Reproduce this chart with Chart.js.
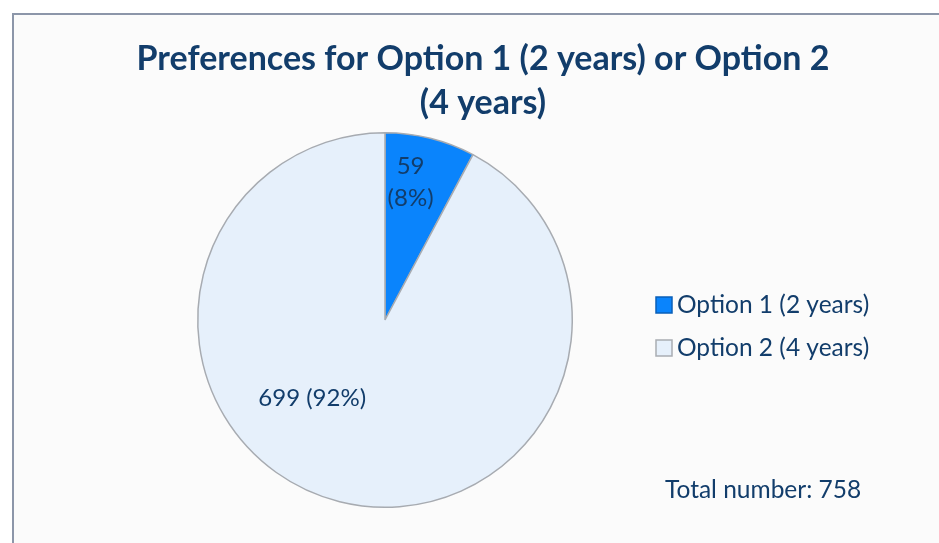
<!DOCTYPE html>
<html>
<head>
<meta charset="utf-8">
<script src="https://cdn.jsdelivr.net/npm/chart.js@4"></script>
<style>
    html, body { margin: 0; padding: 0; background: #ffffff; }
    #frame {
        position: absolute; left: 12px; top: 13px; width: 960px; height: 560px;
        border: 2px solid #8c96a9; background: #fbfbfb; box-sizing: border-box;
    }
    #wrap { position: absolute; left: 0; top: 0; width: 939px; height: 543px; }
</style>
</head>
<body>
<div id="frame"></div>
<div id="wrap"><canvas id="pie-chart" width="939" height="543"></canvas></div>
<script>
// Chart data
const categories = ['Option 1 (2 years)', 'Option 2 (4 years)'];
const counts = [59, 699];
const percents = [8, 92];
const totalNumber = 758;
const chartTitle = ['Preferences for Option 1 (2 years) or Option 2', '(4 years)'];

// Styling
const sliceColors = ['#0a84fc', '#e6f0fb'];
const swatchBorders = ['#0a5fb8', '#a9adb3'];
const textColor = '#123d6b';
const fontFamily = 'Lato, "Open Sans", sans-serif';

// Where each slice label sits: fraction of radius, angle clockwise from top (deg)
const labelPlacement = [
    { r: 0.75, angle: 10.5, lines: i => [String(counts[i]), '(' + percents[i] + '%)'] },
    { r: 0.57, angle: 223, lines: i => [counts[i] + ' (' + percents[i] + '%)'] }
];

/**
 * Draws title, slice labels, legend and total note
 */
const textPlugin = {
    id: 'textPlugin',
    afterDraw(chart) {
        const ctx = chart.ctx;
        ctx.save();
        ctx.fillStyle = textColor;
        ctx.textAlign = 'center';
        ctx.textBaseline = 'middle';

        // Title
        ctx.font = 'bold 34px ' + fontFamily;
        chartTitle.forEach((line, i) => ctx.fillText(line, 483, 59 + i * 44));

        // Slice labels
        const meta = chart.getDatasetMeta(0);
        ctx.font = '24px ' + fontFamily;
        meta.data.forEach((arc, i) => {
            const p = labelPlacement[i];
            const a = p.angle * Math.PI / 180;
            const cx = arc.x + Math.sin(a) * arc.outerRadius * p.r;
            const cy = arc.y - Math.cos(a) * arc.outerRadius * p.r;
            const lines = p.lines(i);
            lines.forEach((t, j) => {
                ctx.fillText(t, cx, cy + (j - (lines.length - 1) / 2) * 32);
            });
        });

        // Legend
        ctx.textAlign = 'left';
        ctx.font = '24.5px ' + fontFamily;
        categories.forEach((label, i) => {
            const y = 305 + i * 43;
            ctx.fillStyle = sliceColors[i];
            ctx.fillRect(656, y - 8, 16, 16);
            ctx.strokeStyle = swatchBorders[i];
            ctx.lineWidth = 1.5;
            ctx.strokeRect(656, y - 8, 16, 16);
            ctx.fillStyle = textColor;
            ctx.fillText(label, 677, y);
        });

        // Total note
        ctx.font = '24.5px ' + fontFamily;
        ctx.fillText('Total number: ' + totalNumber, 665, 490);
        ctx.restore();
    }
};

new Chart(document.getElementById('pie-chart'), {
    type: 'pie',
    data: {
        labels: categories,
        datasets: [{
            data: counts,
            backgroundColor: sliceColors,
            borderColor: '#a7abb1',
            borderWidth: 1.5
        }]
    },
    options: {
        responsive: false,
        animation: false,
        layout: { padding: { left: 197, right: 366, top: 132, bottom: 35 } },
        plugins: {
            legend: { display: false },
            title: { display: false },
            tooltip: { enabled: false }
        }
    },
    plugins: [textPlugin]
});
</script>
</body>
</html>
